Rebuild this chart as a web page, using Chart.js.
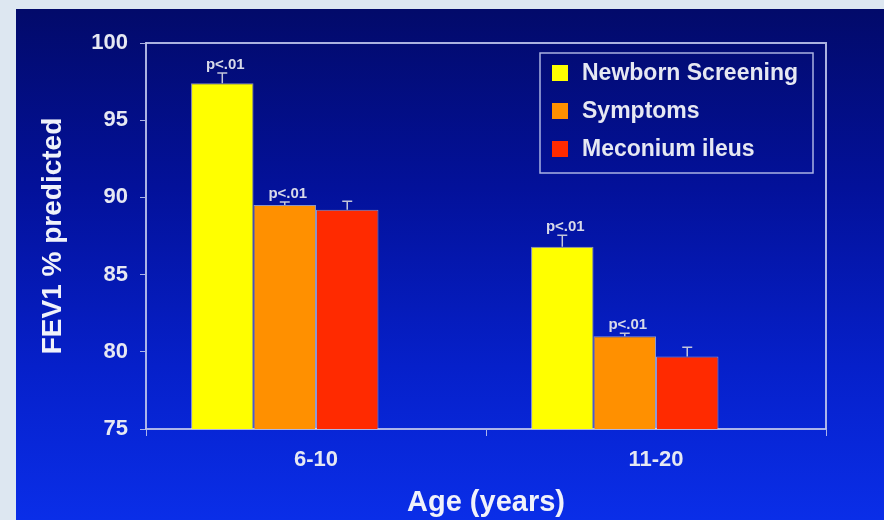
<!DOCTYPE html>
<html>
<head>
<meta charset="utf-8">
<script src="https://cdn.jsdelivr.net/npm/chart.js@4"></script>
<style>
  html, body { margin:0; padding:0; background:#dde7f1; }
  #wrap { position:relative; width:884px; height:520px; overflow:hidden; }
  #panel { position:absolute; left:16px; top:9px; right:0; bottom:0;
    background: linear-gradient(to bottom, #020a6a 0%, #03119a 35%, #0620ca 70%, #0a2ee8 100%); }
  canvas { position:absolute; left:0; top:0; }
</style>
</head>
<body>
<div id="wrap"><div id="panel"></div><canvas id="chart" width="884" height="520"></canvas></div>
<script>
// ----- data -----
const ageGroups = ['6-10', '11-20'];
const seriesNames = ['Newborn Screening', 'Symptoms', 'Meconium ileus'];
const seriesColors = ['#ffff00', '#ff9000', '#ff2a00'];
const newbornScreening = [97.4, 86.8];
const symptoms = [89.5, 81.0];
const meconiumIleus = [89.2, 79.7];
const newbornErr = [0.65, 0.75];
const symptomsErr = [0.2, 0.2];
const meconiumErr = [0.55, 0.6];
const newbornNote = ['p<.01', 'p<.01'];
const symptomsNote = ['p<.01', 'p<.01'];
const meconiumNote = ['', ''];
const yTicks = [75, 80, 85, 90, 95, 100];

const FONT = 'Liberation Sans, Arial, sans-serif';
const lineCol = 'rgba(190,196,236,0.9)';
const textCol = '#e6e8f2';

// error bars (upper half only) + p-value notes
const errorBars = {
  id: 'errorBars',
  afterDatasetsDraw(chart) {
    const ctx = chart.ctx, y = chart.scales.y;
    chart.data.datasets.forEach((ds, i) => {
      if (!ds.errors) return;
      chart.getDatasetMeta(i).data.forEach((bar, j) => {
        const top = y.getPixelForValue(ds.data[j] + ds.errors[j]);
        ctx.save();
        ctx.strokeStyle = '#c4c6da';
        ctx.lineWidth = 1.5;
        ctx.beginPath();
        ctx.moveTo(bar.x, bar.y);
        ctx.lineTo(bar.x, top);
        ctx.moveTo(bar.x - 5, top);
        ctx.lineTo(bar.x + 5, top);
        ctx.stroke();
        if (ds.notes && ds.notes[j]) {
          ctx.fillStyle = '#d8dae8';
          ctx.font = 'bold 15px ' + FONT;
          ctx.textAlign = 'center';
          ctx.textBaseline = 'bottom';
          ctx.fillText(ds.notes[j], bar.x + 3, top - 1);
        }
        ctx.restore();
      });
    });
  }
};

// top / right frame lines and the boxed legend inside the plot
const frameAndLegend = {
  id: 'frameAndLegend',
  afterDraw(chart) {
    const ctx = chart.ctx, a = chart.chartArea;
    ctx.save();
    ctx.strokeStyle = lineCol;
    ctx.lineWidth = 2;
    ctx.beginPath();
    ctx.moveTo(a.left, a.top);
    ctx.lineTo(a.right, a.top);
    ctx.lineTo(a.right, a.bottom);
    ctx.stroke();

    ctx.lineWidth = 1.5;
    ctx.strokeRect(540, 53, 273, 120);
    ctx.font = 'bold 23px ' + FONT;
    ctx.textAlign = 'left';
    ctx.textBaseline = 'middle';
    const rows = [73, 111, 149];
    seriesNames.forEach((name, i) => {
      ctx.fillStyle = seriesColors[i];
      ctx.fillRect(552, rows[i] - 8, 16, 16);
      ctx.fillStyle = textCol;
      ctx.fillText(name, 582, rows[i] + 1);
    });
    ctx.restore();
  }
};

new Chart(document.getElementById('chart').getContext('2d'), {
  type: 'bar',
  data: {
    labels: ageGroups,
    datasets: [
      { label: seriesNames[0], data: newbornScreening, errors: newbornErr, notes: newbornNote, backgroundColor: seriesColors[0] },
      { label: seriesNames[1], data: symptoms, errors: symptomsErr, notes: symptomsNote, backgroundColor: seriesColors[1] },
      { label: seriesNames[2], data: meconiumIleus, errors: meconiumErr, notes: meconiumNote, backgroundColor: seriesColors[2] },
      // empty slot: the slide leaves a gap right of each group
      { label: '', data: [null, null], backgroundColor: 'rgba(0,0,0,0)' }
    ].map(d => ({ ...d, borderColor: 'rgba(235,235,215,0.6)', borderWidth: 1,
                  categoryPercentage: 0.735, barPercentage: 1 }))
  },
  options: {
    responsive: false,
    animation: false,
    layout: { padding: { top: 43, right: 58, left: 0, bottom: 0 } },
    plugins: { legend: { display: false }, tooltip: { enabled: false } },
    scales: {
      x: {
        offset: true,
        grid: { display: true, drawOnChartArea: false, drawTicks: true, tickLength: 7, tickColor: lineCol, offset: true },
        border: { display: true, color: lineCol, width: 2 },
        ticks: { color: textCol, font: { family: FONT, size: 22, weight: 'bold' }, padding: 11 },
        title: { display: true, text: 'Age (years)', color: '#f0f2fa', font: { family: FONT, size: 29, weight: 'bold' }, padding: { top: 0, bottom: 0 } },
        afterFit(scale) { scale.height = 91; }
      },
      y: {
        min: 75, max: 100,
        grid: { display: true, drawOnChartArea: false, drawTicks: true, tickLength: 6, tickColor: lineCol },
        border: { display: true, color: lineCol, width: 2 },
        ticks: { color: textCol, font: { family: FONT, size: 22, weight: 'bold' }, padding: 12 },
        afterBuildTicks(scale) { scale.ticks = yTicks.map(v => ({ value: v })); },
        title: { display: true, text: 'FEV1 % predicted', color: '#f0f2fa', font: { family: FONT, size: 28, weight: 'bold' }, padding: { top: 36, bottom: 0 } },
        afterFit(scale) { scale.width = 146; }
      }
    }
  },
  plugins: [errorBars, frameAndLegend]
});
</script>
</body>
</html>
